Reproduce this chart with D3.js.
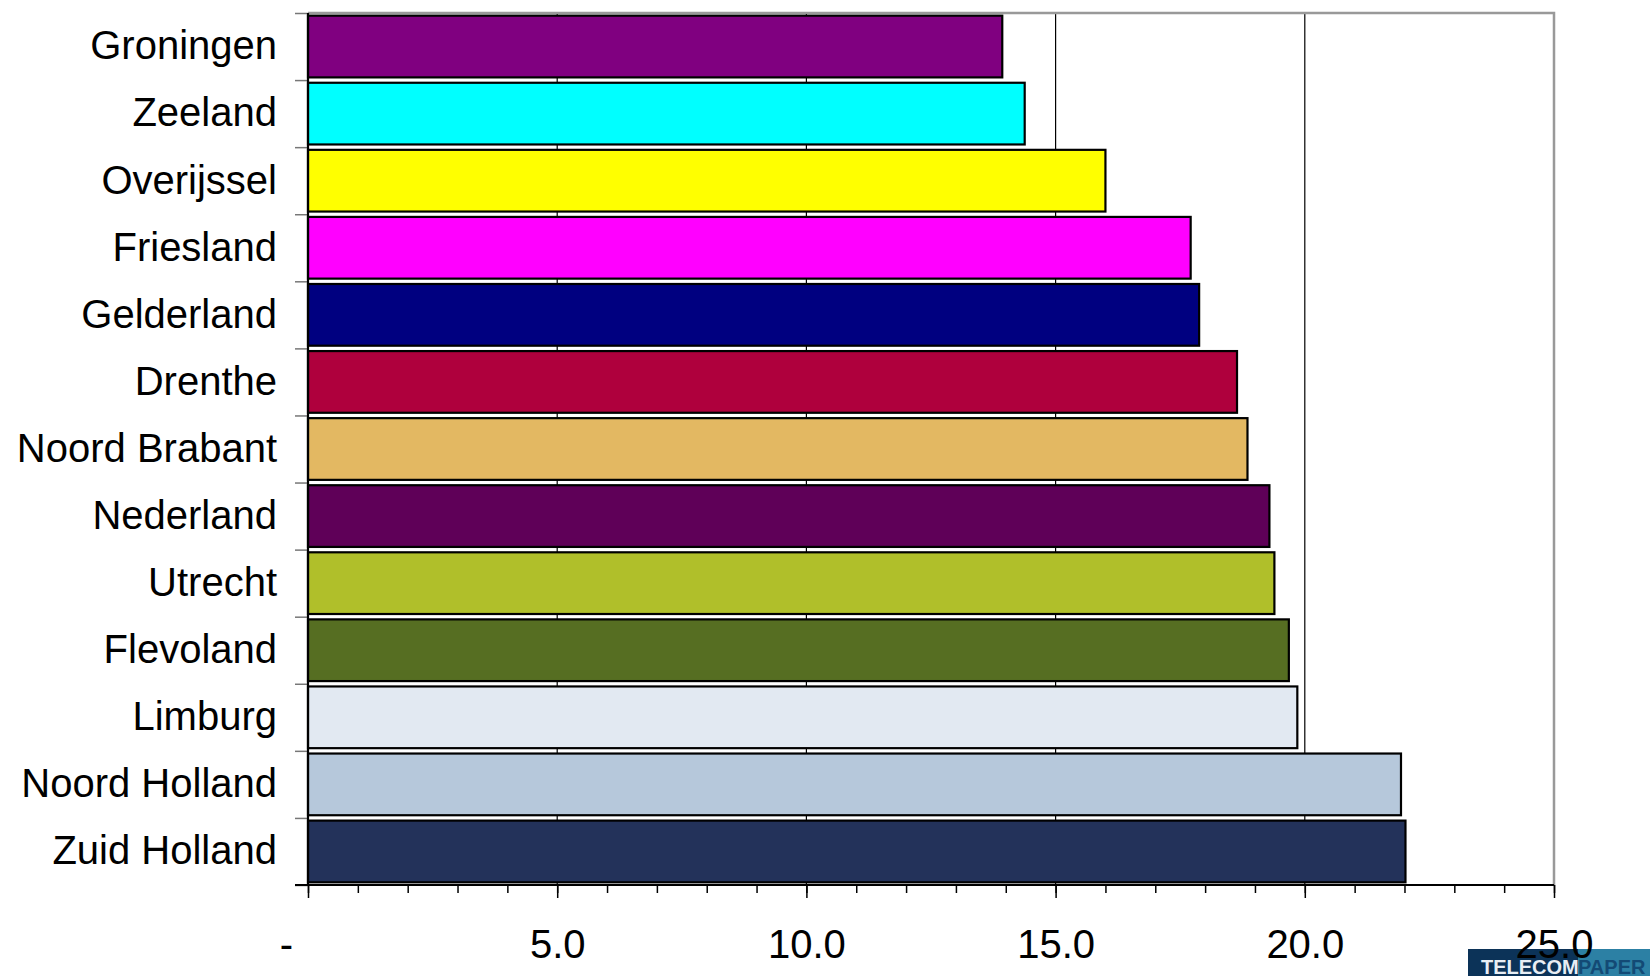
<!DOCTYPE html>
<html>
<head>
<meta charset="utf-8">
<script src="https://cdn.jsdelivr.net/npm/d3@7"></script>
<style>
  html, body { margin: 0; padding: 0; background: #fff; }
  svg { display: block; }
  text { font-family: Arial, "Liberation Sans", sans-serif; }
</style>
</head>
<body>
<svg id="chart" width="1650" height="976"></svg>
<script>
const categories = ["Groningen","Zeeland","Overijssel","Friesland","Gelderland","Drenthe","Noord Brabant","Nederland","Utrecht","Flevoland","Limburg","Noord Holland","Zuid Holland"];
const values = [13.93, 14.38, 16.0, 17.71, 17.88, 18.64, 18.85, 19.29, 19.39, 19.68, 19.85, 21.93, 22.02];
const colors = ["#800080","#00FFFF","#FFFF00","#FF00FF","#000080","#AF003D","#E3B862","#5F0058","#B0BF2A","#566E22","#E2E9F2","#B6C8DB","#23325A"];
const majorTicks = [0, 5, 10, 15, 20, 25];
const minorTicks = d3.range(0, 26, 1);
const tickLabels = ["-", "5.0", "10.0", "15.0", "20.0", "25.0"];

(function () {
const svg = d3.select("#chart");
const pLeft = 308, pRight = 1554, pTop = 13, pBottom = 885;

const x = d3.scaleLinear().domain([0, 25]).range([pLeft, pRight]);
const y = d3.scaleBand().domain(categories).range([pTop, pBottom]).paddingInner(0.08).paddingOuter(0.04);
const yIdx = d3.scaleLinear().domain([0, categories.length]).range([pTop, pBottom]);

// logo (watermark) at the back
const logo = svg.append("g");
logo.append("rect").attr("x", 1468).attr("y", 949).attr("width", 110).attr("height", 27).attr("fill", "#0C3358");
logo.append("rect").attr("x", 1578).attr("y", 949).attr("width", 72).attr("height", 27).attr("fill", "#2C80A4");
logo.append("text").attr("x", 1481).attr("y", 974).attr("font-size", 20).attr("font-weight", "bold")
  .attr("fill", "#E8EEF4").text("TELECOM");
logo.append("text").attr("x", 1578).attr("y", 974).attr("font-size", 20).attr("font-weight", "bold")
  .attr("fill", "#134A75").text("PAPER");

// gridlines
svg.append("g").selectAll("line").data(majorTicks.slice(1, -1)).join("line")
  .attr("x1", d => x(d)).attr("x2", d => x(d))
  .attr("y1", pTop).attr("y2", pBottom)
  .attr("stroke", "#000").attr("stroke-width", 1.2);

// plot border top/right (gray)
svg.append("path")
  .attr("d", `M${pLeft},${pTop}H${pRight}V${pBottom}`)
  .attr("fill", "none").attr("stroke", "#999").attr("stroke-width", 2.5);

// bars
svg.append("g").selectAll("rect").data(categories).join("rect")
  .attr("x", x(0))
  .attr("y", d => y(d))
  .attr("width", (d, i) => x(values[i]) - x(0))
  .attr("height", y.bandwidth())
  .attr("fill", (d, i) => colors[i])
  .attr("stroke", "#000").attr("stroke-width", 2.2);

// left separator ticks
const yTicks = svg.append("g").attr("transform", `translate(${pLeft},0)`)
  .call(d3.axisLeft(yIdx).ticks(categories.length).tickSize(13).tickFormat(""));
yTicks.select(".domain").remove();
yTicks.selectAll("line").attr("stroke", "#777").attr("stroke-width", 1.5);

// left labels
const yLab = svg.append("g").attr("transform", `translate(${pLeft},0)`)
  .call(d3.axisLeft(y).tickSize(0).tickPadding(31));
yLab.select(".domain").remove();
yLab.selectAll("text").attr("font-size", 40).attr("fill", "#000")
  .style("font-family", "Arial, 'Liberation Sans', sans-serif");

// left axis line
svg.append("line").attr("x1", pLeft).attr("x2", pLeft).attr("y1", pTop).attr("y2", pBottom)
  .attr("stroke", "#000").attr("stroke-width", 2.2);

// bottom axis: minor ticks
const xMinor = svg.append("g").attr("transform", `translate(0,${pBottom})`)
  .call(d3.axisBottom(x).tickValues(minorTicks).tickSize(8).tickFormat(""));
xMinor.select(".domain").remove();
xMinor.selectAll("line").attr("stroke", "#000").attr("stroke-width", 1.5);

// bottom axis: major ticks & labels
const xMajor = svg.append("g").attr("transform", `translate(0,${pBottom})`)
  .call(d3.axisBottom(x).tickValues(majorTicks).tickSize(13).tickPadding(32)
    .tickFormat((d, i) => tickLabels[i]));
xMajor.select(".domain").remove();
xMajor.selectAll("line").attr("stroke", "#000").attr("stroke-width", 1.5);
xMajor.selectAll("text").attr("font-size", 40).attr("fill", "#000")
  .style("font-family", "Arial, 'Liberation Sans', sans-serif")
  .attr("dx", d => d === 0 ? -22 : 0);

// bottom axis line
svg.append("line").attr("x1", 295).attr("x2", pRight).attr("y1", pBottom).attr("y2", pBottom)
  .attr("stroke", "#000").attr("stroke-width", 2.2);
})();
</script>
</body>
</html>
